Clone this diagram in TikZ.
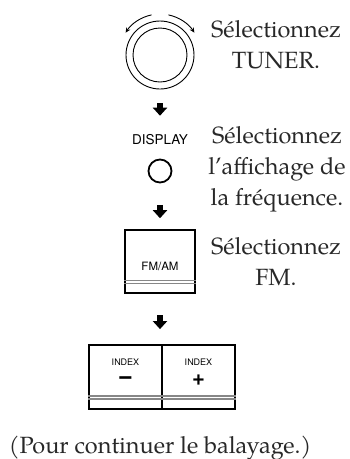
\documentclass[tikz,border=0pt]{standalone}
\usepackage{fontspec}
\setmainfont{TeX Gyre Pagella}
\newfontfamily\keyfont{TeX Gyre Heros}
\usetikzlibrary{arrows.meta, positioning}
\definecolor{keygray}{RGB}{135,135,135}
\definecolor{inkgray}{RGB}{40,40,40}

\begin{document}
\begin{tikzpicture}[x=1pt, y=-1pt,
  every node/.style={inner sep=0pt},
  txt/.style={font=\fontsize{23.5}{31}\selectfont, align=center, anchor=base, text=inkgray},
  keylbl/.style={font=\keyfont\fontsize{13.5}{13.5}\selectfont, anchor=base},
  smalllbl/.style={font=\keyfont\fontsize{9}{9}\selectfont, anchor=base},
  sym/.style={font=\keyfont\bfseries\fontsize{22}{22}\selectfont, anchor=base},
  key/.style={draw, line width=1.6pt, rectangle},
  flowarr/.style={line width=6pt, -{Triangle[width=14pt, length=8pt]}},
  turn/.style={line width=0.9pt, -{Stealth[length=5pt, width=4.5pt]}},
  dbl/.style={draw=keygray, line width=1.2pt}
]
\useasboundingbox (0,0) rectangle (350,459);
% rotary knob
\node[circle, draw, line width=0.9pt, minimum size=68pt] (knob) at (160,55) {};
\node[circle, draw, line width=0.9pt, minimum size=54pt] (knobIn) at (knob.center) {};
\draw[turn] ([shift={(-78:41)}]knob.center) arc[start angle=-78, end angle=-33, radius=41];
\draw[turn] ([shift={(-102:41)}]knob.center) arc[start angle=-102, end angle=-147, radius=41];
\node[txt] (tunerTxt) at (276,68) {Sélectionnez\\TUNER.};
% display button
\node[keylbl] (dispLbl) at (160,144) {DISPLAY};
\node[circle, draw, line width=1.8pt, minimum size=23pt] (dispBtn) at (160,171) {};
\node[txt] (dispTxt) at (277,205) {Sélectionnez\\l’affichage de\\la fréquence.};
% FM/AM key
\node[key, minimum width=70pt, minimum height=63pt] (fmKey) at (160,261.5) {};
\node[keylbl, font=\keyfont\fontsize{11.5}{11.5}\selectfont] (fmLbl) at (160,270) {FM/AM};
\draw[dbl] ([yshift=13pt]fmKey.south west) -- ([yshift=13pt]fmKey.south east);
\draw[dbl] ([yshift=10pt]fmKey.south west) -- ([yshift=10pt]fmKey.south east);
\node[txt] (fmTxt) at (276,285) {Sélectionnez\\FM.};
% INDEX keys
\node[key, line width=1.8pt, minimum width=146pt, minimum height=64pt] (idxKey) at (162,377) {};
\draw[line width=1.8pt] (idxKey.north) -- (idxKey.south);
\draw[dbl] ([yshift=14pt]idxKey.south west) -- ([yshift=14pt]idxKey.south east);
\draw[dbl] ([yshift=11pt]idxKey.south west) -- ([yshift=11pt]idxKey.south east);
\node[smalllbl] (minusLbl) at (125.5,365.5) {INDEX};
\node[smalllbl] (plusLbl) at (198.5,365.5) {INDEX};
\node[sym, font=\keyfont\bfseries\fontsize{26}{26}\selectfont] (minusSym) at (125.5,384.5) {−};
\node[sym] (plusSym) at (198.5,385) {+};
\node[txt] (noteTxt) at (160,453) {(Pour continuer le balayage.)};
% flow
\draw[flowarr, shorten <=14pt, shorten >=18pt] (knob) -- (dispLbl);
\draw[flowarr, shorten <=21.5pt, shorten >=11pt] (dispBtn) -- (fmKey);
\draw[flowarr, shorten <=21.5pt, shorten >=15pt] (fmKey.south) -- (fmKey.south |- idxKey.north);
\end{tikzpicture}
\end{document}
